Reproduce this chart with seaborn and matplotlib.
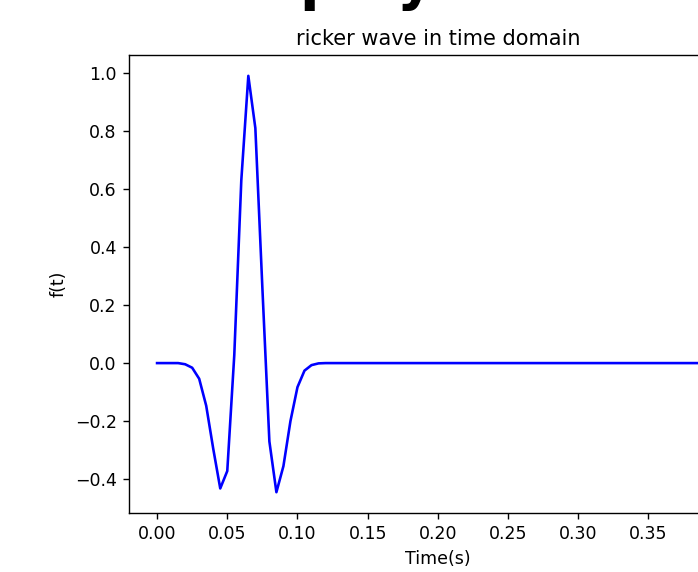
import numpy as np
import pandas as pd
import seaborn as sns
import matplotlib
matplotlib.use("Agg")
import matplotlib.pyplot as plt

# 시간 샘플 (s), 0.005 s 간격
time_s = [
    0.000, 0.005, 0.010, 0.015, 0.020, 0.025, 0.030, 0.035, 0.040, 0.045,
    0.050, 0.055, 0.060, 0.065, 0.070, 0.075, 0.080, 0.085, 0.090, 0.095,
    0.100, 0.105, 0.110, 0.115, 0.120, 0.125, 0.130, 0.135, 0.140, 0.145,
    0.150, 0.155, 0.160, 0.165, 0.170, 0.175, 0.180, 0.185, 0.190, 0.195,
    0.200, 0.205, 0.210, 0.215, 0.220, 0.225, 0.230, 0.235, 0.240, 0.245,
    0.250, 0.255, 0.260, 0.265, 0.270, 0.275, 0.280, 0.285, 0.290, 0.295,
    0.300, 0.305, 0.310, 0.315, 0.320, 0.325, 0.330, 0.335, 0.340, 0.345,
    0.350, 0.355, 0.360, 0.365, 0.370, 0.375, 0.380, 0.385, 0.390, 0.395,
    0.400,
]

# ricker 파형 진폭
amplitude = [
    0.0, 0.0, 0.0, 0.0, -0.004, -0.016, -0.054, -0.147, -0.295, -0.432,
    -0.372, 0.028, 0.63, 0.99, 0.81, 0.26, -0.27, -0.445, -0.355, -0.2,
    -0.083, -0.026, -0.007, -0.001, 0.0, 0.0, 0.0, 0.0, 0.0, 0.0,
    0.0, 0.0, 0.0, 0.0, 0.0, 0.0, 0.0, 0.0, 0.0, 0.0,
    0.0, 0.0, 0.0, 0.0, 0.0, 0.0, 0.0, 0.0, 0.0, 0.0,
    0.0, 0.0, 0.0, 0.0, 0.0, 0.0, 0.0, 0.0, 0.0, 0.0,
    0.0, 0.0, 0.0, 0.0, 0.0, 0.0, 0.0, 0.0, 0.0, 0.0,
    0.0, 0.0, 0.0, 0.0, 0.0, 0.0, 0.0, 0.0, 0.0, 0.0,
    0.0,
]

df = pd.DataFrame({"t": time_s, "f": amplitude})

# 원본 그림은 글자가 1.25배 정도 큼
s = 1.25
plt.rcParams.update({
    "font.size": 10 * s,
    "axes.titlesize": 12 * s,
    "axes.labelsize": 10 * s,
    "xtick.labelsize": 10 * s,
    "ytick.labelsize": 10 * s,
    "axes.linewidth": 0.8 * s,
    "xtick.major.size": 3.5 * s,
    "ytick.major.size": 3.5 * s,
    "xtick.major.width": 0.8 * s,
    "ytick.major.width": 0.8 * s,
    "xtick.major.pad": 3.5 * s,
    "ytick.major.pad": 3.5 * s,
    "axes.labelpad": 4.0 * s,
    "axes.titlepad": 6.0 * s,
    "lines.linewidth": 1.5 * s,
})

fig = plt.figure(figsize=(6.98, 5.72), dpi=100)
# 원본은 더 넓은 그림의 왼쪽 부분이라 축이 오른쪽 밖으로 나감
ax = fig.add_axes([0.1848, 0.1031, 0.885, 0.8007])

sns.lineplot(data=df, x="t", y="f", color="blue", ax=ax)

ax.set_title("ricker wave in time domain")
ax.set_xlabel("Time(s)")
ax.set_ylabel("f(t)")

# 위쪽에 잘린 큰 제목 (아래 꼬리만 보임)
fig.text(0.6215, 1.0025, "Ricker wavelet display", fontsize=41,
         fontweight="bold", ha="right", va="baseline")

fig.savefig("out.png", dpi=100)
